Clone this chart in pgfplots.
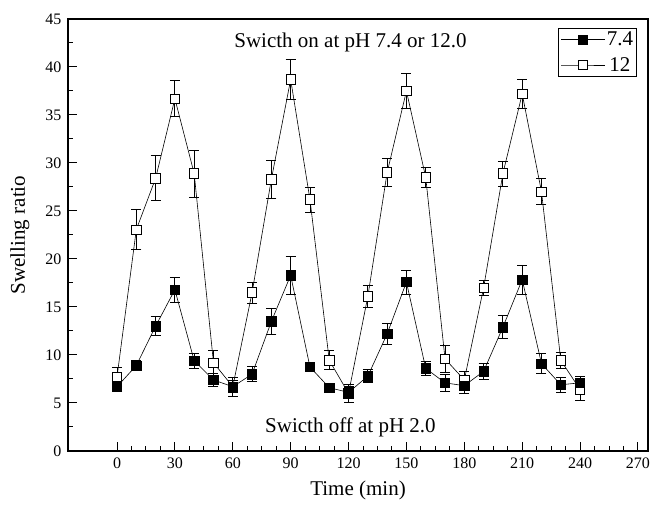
\documentclass[border=0pt]{standalone}
\usepackage{pgfplots}
\pgfplotsset{compat=1.18}
\usepackage{pgfplotstable}
\usepackage{fontspec}
\setmainfont{Liberation Serif}

\pgfplotstableread{
t   v     e
0   6.7   0.5
10  8.9   0.5
20  13.0  1.0
30  16.8  1.3
40  9.4   0.8
50  7.4   0.7
60  6.7   0.6
70  8.0   0.8
80  13.5  1.4
90  18.3  1.95
100 8.75  0.4
110 6.6   0.3
120 6.1   0.6
130 7.8   0.7
140 12.2  1.1
150 17.6  1.25
160 8.6   0.75
170 7.1   0.85
180 6.8   0.85
190 8.3   0.8
200 12.9  1.2
210 17.85 1.5
220 9.1   1.05
230 6.9   0.8
240 7.1   0.7
}\seriesA

\pgfplotstableread{
t   v     e
0   7.7   1.0
10  23.06 2.1
20  28.4  2.35
30  36.7  1.85
40  28.9  2.45
50  9.2   1.3
60  6.7   1.0
70  16.5  1.1
80  28.3  2.0
90  38.7  2.1
100 26.2  1.3
110 9.45  1.0
120 6.0   0.9
130 16.1  1.1
140 29.0  1.45
150 37.5  1.85
160 28.5  1.05
170 9.6   1.4
180 7.4   0.9
190 17.0  0.8
200 28.9  1.3
210 37.2  1.5
220 27.0  1.35
230 9.45  0.8
240 6.4   1.1
}\seriesB

\begin{document}
\begin{tikzpicture}
\begin{axis}[
  scale only axis, width=580pt, height=432pt,
  xmin=-25.4, xmax=275.2, ymin=0, ymax=45,
  xtick={0,30,...,270}, ytick={0,5,...,45},
  minor x tick num=3, minor y tick num=1,
  xtick pos=left, ytick pos=left,
  tick align=inside,
  major tick length=9pt, minor tick length=5pt,
  every tick/.style={black, line width=1pt},
  axis line style={line width=1.3pt},
  /pgf/number format/assume math mode=true,
  tick label style={font=\fontsize{16}{18}\selectfont},
  yticklabel style={xshift=-3pt},
  xticklabel style={yshift=-3pt},
  xlabel={Time (min)}, ylabel={Swelling ratio},
  label style={font=\fontsize{21}{24}\selectfont},
  xlabel style={at={(axis description cs:0.5,-0.0903)}, anchor=center},
  ylabel style={at={(axis description cs:-0.0828,0.5)}, anchor=center},
  legend style={at={(rel axis cs:0.981,0.979)}, anchor=north east,
    font=\fontsize{21}{24}\selectfont, draw=black, line width=0.8pt,
    inner sep=2pt, row sep=7pt, nodes={inner sep=1.5pt}},
  legend image code/.code={\draw[#1, mark repeat=2, mark phase=2] plot coordinates {(0pt,0pt) (22pt,0pt) (44pt,0pt)};},
  reverse legend,
  error bars/y dir=both, error bars/y explicit,
  error bars/error bar style={line width=0.9pt, black},
  error bars/error mark options={black, line width=0.9pt, mark size=5pt, rotate=90},
]
\addplot[black, line width=0.6pt, mark=square*, mark size=4.7pt,
  mark options={fill=white, line width=0.8pt, draw=black}]
  table[x=t, y=v, y error=e] {\seriesB};
\addlegendentry{12}
\addplot[black, line width=0.6pt, mark=square*, mark size=4.7pt,
  mark options={fill=black, line width=0.6pt}]
  table[x=t, y=v, y error=e] {\seriesA};
\addlegendentry{7.4}
\node[font=\fontsize{21}{24}\selectfont] at (axis cs:121,42.6) {Swicth on at pH 7.4 or 12.0};
\node[font=\fontsize{21}{24}\selectfont] at (axis cs:121,2.45) {Swicth off at pH 2.0};
\end{axis}
\pgfresetboundingbox
\path (-68pt,-54pt) rectangle (585pt,451pt);
\end{tikzpicture}
\end{document}
